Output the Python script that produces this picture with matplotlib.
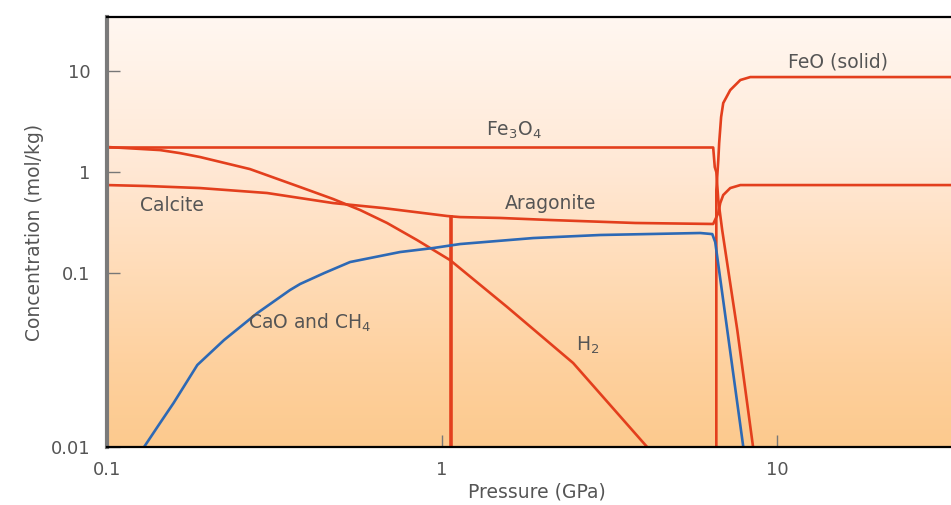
import numpy as np
import matplotlib
matplotlib.use("Agg")
import matplotlib.pyplot as plt
from matplotlib.colors import LinearSegmentedColormap
from matplotlib.ticker import NullLocator

# Data (pressure in GPa, concentration in mol/kg)
fe3o4_p = [0.1, 6.44, 6.51, 6.58, 6.67, 6.85, 7.60, 8.47]
fe3o4_c = [1.75, 1.75, 1.12, 1.0, 0.528, 0.267, 0.047, 0.01]

feo_p = [6.58, 6.58, 6.67, 6.71, 6.80, 6.90, 7.24, 7.76, 8.31, 33.0]
feo_c = [0.005, 0.663, 1.315, 1.94, 3.50, 4.82, 6.48, 8.15, 8.72, 8.72]

# calcite -> aragonite -> high-pressure carbonate
carb_p = [0.1, 0.1316, 0.1895, 0.3003, 0.4727, 0.6667, 1.035, 1.132, 1.49, 2.10, 3.77,
          6.44, 6.67, 6.76, 6.90, 7.24, 7.76, 33.0]
carb_c = [0.743, 0.727, 0.694, 0.620, 0.493, 0.440, 0.367, 0.358, 0.351, 0.335, 0.313,
          0.306, 0.393, 0.493, 0.592, 0.694, 0.743, 0.743]

trans_p = [1.064, 1.064]
trans_c = [0.36, 0.005]

h2_p = [0.1, 0.144, 0.165, 0.1895, 0.267, 0.377, 0.4727, 0.569, 0.685, 0.842, 1.057,
        1.563, 2.46, 4.09]
h2_c = [1.77, 1.65, 1.54, 1.408, 1.07, 0.710, 0.541, 0.421, 0.313, 0.212, 0.134,
        0.0638, 0.0304, 0.01]

cao_p = [0.129, 0.144, 0.158, 0.186, 0.2235, 0.281, 0.3515, 0.377, 0.445, 0.5313, 0.749,
         0.940, 1.132, 1.87, 2.96, 5.89, 6.40, 6.53, 7.92]
cao_c = [0.01, 0.01374, 0.0179, 0.0296, 0.0412, 0.0589, 0.0798, 0.0865, 0.1, 0.1285,
         0.1614, 0.1768, 0.1937, 0.222, 0.238, 0.249, 0.243, 0.2027, 0.01]

x_ticks = [0.1, 1, 10]
x_ticklabels = ["0.1", "1", "10"]
y_ticks = [0.01, 0.1, 1, 10]
y_ticklabels = ["0.01", "0.1", "1", "10"]

RED = "#e33f1d"
BLUE = "#2d69b5"
TXT = "#555555"

# lowest decade is drawn stretched in the original figure
STRETCH = 174 / 101


def fwd(v):
    v = np.asarray(v, dtype=float)
    lv = np.log10(np.clip(v, 1e-300, None))
    return np.where(lv >= -1, lv, -1 + (lv + 1) * STRETCH)


def inv(u):
    u = np.asarray(u, dtype=float)
    lv = np.where(u >= -1, u, -1 + (u + 1) / STRETCH)
    return 10 ** lv


fig = plt.figure(figsize=(9.51, 5.05), dpi=100)
pos = [107 / 951, 58 / 505, 844 / 951, 430 / 505]

# background gradient
bg = fig.add_axes(pos, zorder=0)
cmap = LinearSegmentedColormap.from_list("bg", [
    (0.0, (1.0, 0.97, 0.945)),
    (0.35, (1.0, 0.91, 0.835)),
    (0.6, (1.0, 0.86, 0.715)),
    (0.8, (0.996, 0.82, 0.625)),
    (1.0, (0.99, 0.79, 0.555)),
])
bg.imshow(np.linspace(0, 1, 256).reshape(-1, 1), cmap=cmap, aspect="auto",
          extent=[0, 1, 0, 1])
bg.axis("off")

ax = fig.add_axes(pos, zorder=1)
ax.set_facecolor("none")
ax.set_xscale("log")
ax.set_yscale("function", functions=(fwd, inv))
ax.set_xlim(0.1, 33.0)
ax.set_ylim(0.01, 34.3)

lw = 1.9
ax.plot(fe3o4_p, fe3o4_c, color=RED, lw=lw)
ax.plot(feo_p, feo_c, color=RED, lw=lw)
ax.plot(carb_p, carb_c, color=RED, lw=lw)
ax.plot(trans_p, trans_c, color=RED, lw=2.6)
ax.plot(h2_p, h2_c, color=RED, lw=lw)
ax.plot(cao_p, cao_c, color=BLUE, lw=lw)

fs = 13.5
ax.text(15.2, 12.3, "FeO (solid)", color=TXT, fontsize=fs, ha="center", va="center")
ax.text(1.64, 2.6, "Fe$_3$O$_4$", color=TXT, fontsize=fs, ha="center", va="center")
ax.text(2.10, 0.493, "Aragonite", color=TXT, fontsize=fs, ha="center", va="center")
ax.text(0.156, 0.471, "Calcite", color=TXT, fontsize=fs, ha="center", va="center")
ax.text(0.404, 0.0516, "CaO and CH$_4$", color=TXT, fontsize=fs, ha="center", va="center")
ax.text(2.71, 0.0385, "H$_2$", color=TXT, fontsize=fs, ha="center", va="center")

ax.set_xticks(x_ticks)
ax.set_xticklabels(x_ticklabels)
ax.set_yticks(y_ticks)
ax.set_yticklabels(y_ticklabels)
ax.xaxis.set_minor_locator(NullLocator())
ax.yaxis.set_minor_locator(NullLocator())
ax.tick_params(direction="in", length=9, width=1, color="#777777",
               labelcolor=TXT, labelsize=13)
ax.tick_params(axis="y", pad=12)
ax.tick_params(axis="x", pad=10)

ax.set_xlabel("Pressure (GPa)", fontsize=13.5, color=TXT)
ax.xaxis.set_label_coords(0.509, -0.083)
ax.set_ylabel("Concentration (mol/kg)", fontsize=13.5, color=TXT)
ax.yaxis.set_label_coords(-0.075, 0.5)

ax.spines["right"].set_visible(False)
ax.spines["top"].set_linewidth(1.6)
ax.spines["bottom"].set_linewidth(1.6)
ax.spines["left"].set_linewidth(3)
ax.spines["left"].set_color("#7a7a7a")

fig.savefig("out.png", dpi=100)
